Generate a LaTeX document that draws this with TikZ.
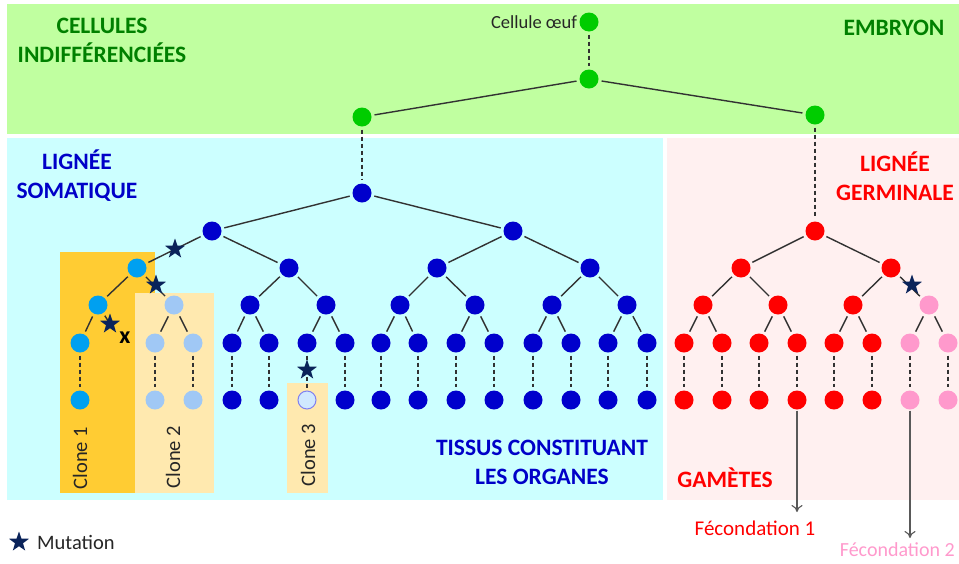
\documentclass[tikz,border=0pt]{standalone}
\usepackage{fontspec}
\setmainfont{Carlito}
\usetikzlibrary{shapes.geometric,arrows.meta}
\definecolor{bandgreen}{RGB}{192,255,160}
\definecolor{bandcyan}{RGB}{204,255,255}
\definecolor{bandpink}{RGB}{255,240,240}
\definecolor{titlegreen}{RGB}{0,128,0}
\definecolor{titleblue}{RGB}{0,0,200}
\definecolor{titlered}{RGB}{255,0,0}
\definecolor{cgreen}{RGB}{0,204,0}
\definecolor{cblue}{RGB}{0,0,204}
\definecolor{cclone1}{RGB}{0,160,240}
\definecolor{cclone2}{RGB}{160,200,245}
\definecolor{cclone3}{RGB}{208,232,255}
\definecolor{cclone3b}{RGB}{128,128,240}
\definecolor{cred}{RGB}{255,0,0}
\definecolor{cpink}{RGB}{255,153,204}
\definecolor{boxone}{RGB}{255,204,51}
\definecolor{boxtwo}{RGB}{255,233,175}
\definecolor{starblue}{RGB}{10,35,90}
\definecolor{linegray}{RGB}{50,50,50}
\tikzset{
  cell/.style={circle,inner sep=0pt,minimum size=19pt,draw=none},
  gcell/.style={cell,fill=cgreen},
  bcell/.style={cell,fill=cblue},
  onecell/.style={cell,fill=cclone1},
  twocell/.style={cell,fill=cclone2},
  threecell/.style={cell,fill=cclone3,draw=cclone3b,line width=1pt,minimum size=18pt},
  rcell/.style={cell,fill=cred},
  pcell/.style={cell,fill=cpink},
  edge/.style={draw=linegray,line width=1.4pt,shorten <=3pt,shorten >=3pt},
  dedge/.style={draw=linegray,line width=1.4pt,dash pattern=on 4pt off 3pt,shorten <=3pt,shorten >=3pt},
  mut/.style={star,star points=5,star point ratio=2.5,fill=starblue,inner sep=0pt,minimum size=21pt},
  heading/.style={font=\fontsize{23.5}{29}\selectfont\bfseries,align=center},
  clonelbl/.style={font=\fontsize{20.5}{22}\selectfont,rotate=90,text=black!85},
  arr/.style={draw=black!65,line width=1.1pt,-{To[length=7pt,width=11pt]}}
}
\begin{document}
\begin{tikzpicture}[x=1pt,y=-1pt]
\useasboundingbox (0,0) rectangle (959,563);
% backgrounds
\fill[bandgreen] (7,4) rectangle (959,134);
\fill[bandcyan] (7,138) rectangle (663,500);
\fill[bandpink] (667,138) rectangle (959,500);
\fill[boxone] (60,252) rectangle (155,493);
\fill[boxtwo] (135,293) rectangle (214,493);
\fill[boxtwo] (287,383) rectangle (328,493);
% titles
\node[heading,text=titlegreen] (tcell) at (102,40) {CELLULES\\INDIFFÉRENCIÉES};
\node[heading,text=titlegreen] (temb) at (894,28) {EMBRYON};
\node[heading,text=titleblue] (tsom) at (77,176) {LIGNÉE\\SOMATIQUE};
\node[heading,text=titlered] (tger) at (895,176) {LIGNÉE\\GERMINALE};
\node[heading,text=titleblue] (ttis) at (542,462) {TISSUS CONSTITUANT\\LES ORGANES};
\node[heading,text=titlered] (tgam) at (725,478) {GAMÈTES};
% embryo cells
\node[gcell] (g0) at (589,22) {};
\node[gcell] (g1) at (589,79) {};
\node[gcell] (gL) at (362,117) {};
\node[gcell] (gR) at (815,115) {};
\node[anchor=east,inner sep=2pt,font=\fontsize{18.5}{20}\selectfont,text=black!85] (toeuf) at (g0.west) {Cellule œuf};
\draw[dedge] (g0) -- (g1);
\draw[edge] (g1) -- (gL);
\draw[edge] (g1) -- (gR);
% somatic tree
\node[bcell] (s) at (362,193) {};
\node[bcell] (s0) at (212,231) {};
\node[bcell] (s1) at (513,231) {};
\node[onecell] (s00) at (137,268) {};
\node[bcell] (s01) at (289,268) {};
\node[bcell] (s10) at (437,268) {};
\node[bcell] (s11) at (590,268) {};
\node[onecell] (s000) at (98,305) {};
\node[twocell] (s001) at (174,305) {};
\node[bcell] (s010) at (250,305) {};
\node[bcell] (s011) at (326,305) {};
\node[bcell] (s100) at (400,305) {};
\node[bcell] (s101) at (475,305) {};
\node[bcell] (s110) at (552,305) {};
\node[bcell] (s111) at (627,305) {};
\draw[dedge] (gL) -- (s);
\draw[edge] (s) -- (s0);
\draw[edge] (s) -- (s1);
\foreach \pa/\c in {s0/s00,s0/s01,s1/s10,s1/s11,s00/s000,s00/s001,s01/s010,s01/s011,s10/s100,s10/s101,s11/s110,s11/s111}
  \draw[edge] (\pa) -- (\c);
% level 5 and 6
\foreach \i/\x/\sty/\pa in {1/80/onecell/s000,2/155/twocell/s001,3/193/twocell/s001,4/232/bcell/s010,5/269/bcell/s010,6/307/bcell/s011,7/345/bcell/s011,8/381/bcell/s100,9/418/bcell/s100,10/456/bcell/s101,11/494/bcell/s101,12/533/bcell/s110,13/571/bcell/s110,14/608/bcell/s111,15/647/bcell/s111}{
  \node[\sty] (a\i) at (\x,343) {};
  \draw[edge] (\pa) -- (a\i);
}
\foreach \i/\x/\sty in {1/80/onecell,2/155/twocell,3/193/twocell,4/232/bcell,5/269/bcell,6/307/threecell,7/345/bcell,8/381/bcell,9/418/bcell,10/456/bcell,11/494/bcell,12/533/bcell,13/571/bcell,14/608/bcell,15/647/bcell}{
  \node[\sty] (b\i) at (\x,400) {};
  \draw[dedge] (a\i) -- (b\i);
}
\coordinate (xend) at (112,327);
\draw[edge,shorten >=0pt] (s000) -- (xend);
% mutations
\node[mut] (m1) at (175,249) {};
\node[mut] (m2) at (156,285) {};
\node[mut] (m3) at (110,324) {};
\node[font=\fontsize{24}{26}\selectfont\bfseries] (xx) at (125,338) {x};
\node[mut] (m4) at (307,370) {};
% clone labels
\node[clonelbl] (cl1) at (80,458) {Clone 1};
\node[clonelbl] (cl2) at (173,457) {Clone 2};
\node[clonelbl] (cl3) at (308,455) {Clone 3};
% germline tree
\node[rcell] (r) at (815,231) {};
\node[rcell] (r0) at (741,268) {};
\node[rcell] (r1) at (891,268) {};
\node[rcell] (r00) at (703,305) {};
\node[rcell] (r01) at (778,305) {};
\node[rcell] (r10) at (853,305) {};
\node[pcell] (r11) at (929,305) {};
\draw[dedge] (gR) -- (r);
\foreach \pa/\c in {r/r0,r/r1,r0/r00,r0/r01,r1/r10,r1/r11}
  \draw[edge] (\pa) -- (\c);
\foreach \i/\x/\sty/\pa in {1/684/rcell/r00,2/722/rcell/r00,3/759/rcell/r01,4/797/rcell/r01,5/834/rcell/r10,6/872/rcell/r10,7/910/pcell/r11,8/948/pcell/r11}{
  \node[\sty] (c\i) at (\x,343) {};
  \node[\sty] (d\i) at (\x,400) {};
  \draw[edge] (\pa) -- (c\i);
  \draw[dedge] (c\i) -- (d\i);
}
\node[mut] (m5) at (912,285) {};
% fertilisation
\coordinate (f1) at (797,512);
\coordinate (f2) at (910,538);
\draw[arr,shorten <=1pt] (d4) -- (f1);
\draw[arr,shorten <=1pt] (d7) -- (f2);
\node[font=\fontsize{21}{23}\selectfont,text=cred] (tf1) at (755,528) {Fécondation 1};
\node[anchor=east,inner sep=0pt,font=\fontsize{20}{22}\selectfont,text=cpink] (tf2) at (955,550) {Fécondation 2};
% legend
\node[mut] (mleg) at (19,542) {};
\node[anchor=west,inner sep=0pt,font=\fontsize{20.5}{22}\selectfont,text=black!85] (tleg) at (37,542) {Mutation};
\end{tikzpicture}
\end{document}
